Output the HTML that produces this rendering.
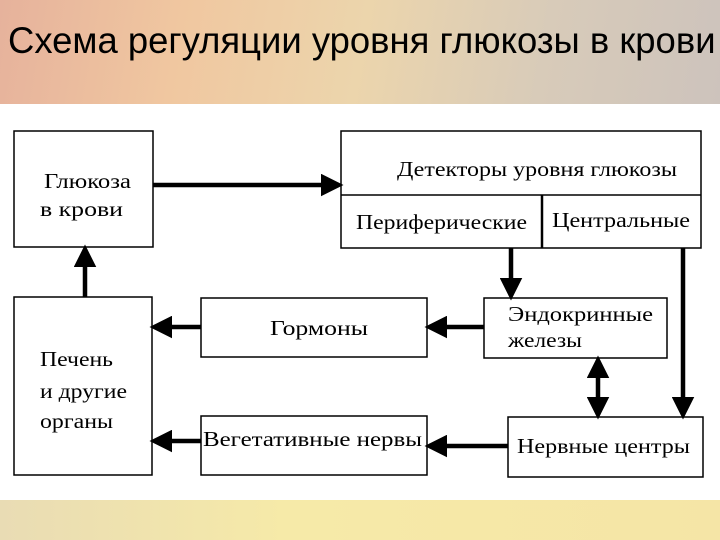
<!DOCTYPE html>
<html><head><meta charset="utf-8"><style>
html,body{margin:0;padding:0;width:720px;height:540px;overflow:hidden;background:#fff}
.hdr{position:absolute;left:0;top:0;width:720px;height:104px;background:linear-gradient(100deg,#e6b29c 0%,#f0c7a0 25%,#ecd5ac 50%,#d8cbb9 75%,#cdc3bc 100%)}
.ftr{position:absolute;left:0;top:500px;width:720px;height:40px;background:linear-gradient(90deg,#e9dcb4 0%,#f6eaa8 40%,#f5e5a6 100%)}
h1{position:absolute;left:8px;top:20px;margin:0;font:400 37px "Liberation Sans",sans-serif;color:#000;white-space:nowrap;transform-origin:0 0;transform:scaleX(0.985)}
svg{position:absolute;left:0;top:0}
text{font-family:"Liberation Serif",serif;font-size:21px;fill:#000}
</style></head><body>
<div class="hdr"></div><div class="ftr"></div>
<h1>Схема регуляции уровня глюкозы в крови</h1>
<svg width="720" height="540">
<defs><marker id="a" markerWidth="5" markerHeight="5" refX="4" refY="2.5" orient="auto" markerUnits="strokeWidth"><path d="M0,0L5,2.5L0,5z" fill="#000"/></marker>
<marker id="s" markerWidth="5" markerHeight="5" refX="1" refY="2.5" orient="auto" markerUnits="strokeWidth"><path d="M5,0L0,2.5L5,5z" fill="#000"/></marker></defs>
<g fill="#fff" stroke="#000" stroke-width="1.5">
<rect x="14" y="131" width="139" height="116"/>
<rect x="341" y="131" width="360" height="117"/>
<line x1="341" y1="195" x2="701" y2="195"/>
<line x1="542" y1="195" x2="542" y2="248" stroke-width="2.5"/>
<rect x="14" y="297" width="138" height="178"/>
<rect x="201" y="298" width="226" height="59"/>
<rect x="484" y="298" width="183" height="60"/>
<rect x="201" y="416" width="226" height="59"/>
<rect x="508" y="417" width="195" height="60"/>
</g>
<g stroke="#000" stroke-width="4.5" fill="none">
<line x1="153" y1="185" x2="339" y2="185" marker-end="url(#a)"/>
<line x1="85" y1="297" x2="85" y2="249" marker-end="url(#a)"/>
<line x1="511" y1="248" x2="511" y2="296" marker-end="url(#a)"/>
<line x1="683" y1="248" x2="683" y2="415" marker-end="url(#a)"/>
<line x1="598" y1="360" x2="598" y2="415" marker-start="url(#s)" marker-end="url(#a)"/>
<line x1="484" y1="327" x2="429" y2="327" marker-end="url(#a)"/>
<line x1="201" y1="327" x2="154" y2="327" marker-end="url(#a)"/>
<line x1="508" y1="446" x2="429" y2="446" marker-end="url(#a)"/>
<line x1="201" y1="441" x2="154" y2="441" marker-end="url(#a)"/>
</g>
<g>
<text x="44" y="188" textLength="87" lengthAdjust="spacingAndGlyphs">Глюкоза</text>
<text x="40" y="216" textLength="83" lengthAdjust="spacingAndGlyphs">в крови</text>
<text x="397" y="176" textLength="280" lengthAdjust="spacingAndGlyphs">Детекторы уровня глюкозы</text>
<text x="356" y="229" textLength="171" lengthAdjust="spacingAndGlyphs">Периферические</text>
<text x="552" y="227" textLength="138" lengthAdjust="spacingAndGlyphs">Центральные</text>
<text x="270" y="335" textLength="98" lengthAdjust="spacingAndGlyphs">Гормоны</text>
<text x="508" y="321" textLength="145" lengthAdjust="spacingAndGlyphs">Эндокринные</text>
<text x="508" y="347" textLength="74" lengthAdjust="spacingAndGlyphs">железы</text>
<text x="40" y="366" textLength="73" lengthAdjust="spacingAndGlyphs">Печень</text>
<text x="40" y="398" textLength="87" lengthAdjust="spacingAndGlyphs">и другие</text>
<text x="40" y="428" textLength="73" lengthAdjust="spacingAndGlyphs">органы</text>
<text x="203" y="446" textLength="219" lengthAdjust="spacingAndGlyphs">Вегетативные  нервы</text>
<text x="517" y="453" textLength="173" lengthAdjust="spacingAndGlyphs">Нервные центры</text>
</g>
</svg>
</body></html>
